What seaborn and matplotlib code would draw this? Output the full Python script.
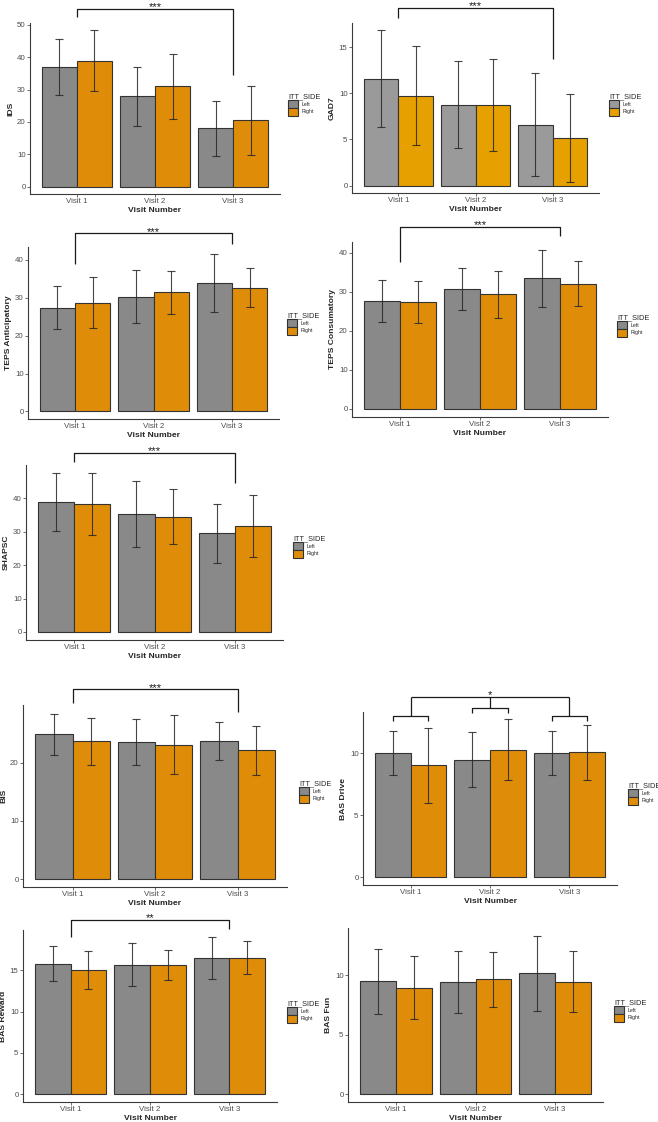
import numpy as np
import pandas as pd
import matplotlib
matplotlib.use('Agg')
import matplotlib.pyplot as plt
import seaborn as sns
from matplotlib.patches import Patch

W, H = 658, 1122

visits = ['Visit 1', 'Visit 2', 'Visit 3']
sides = ['Left', 'Right']

# mean and SD per visit for each side
ids_left = [37.0, 27.95, 18.05]
ids_right = [38.9, 30.95, 20.55]
ids_left_sd = [8.6, 9.05, 8.45]
ids_right_sd = [9.3, 10.05, 10.65]

gad7_left = [11.58, 8.77, 6.59]
gad7_right = [9.75, 8.69, 5.16]
gad7_left_sd = [5.22, 4.73, 5.58]
gad7_right_sd = [5.35, 4.97, 4.8]

tepsa_left = [27.4, 30.3, 33.9]
tepsa_right = [28.7, 31.4, 32.7]
tepsa_left_sd = [5.6, 6.9, 7.6]
tepsa_right_sd = [6.7, 5.75, 5.2]

tepsc_left = [27.6, 30.7, 33.4]
tepsc_right = [27.3, 29.3, 32.05]
tepsc_left_sd = [5.4, 5.4, 7.25]
tepsc_right_sd = [5.4, 6.05, 5.8]

shapsc_left = [38.8, 35.3, 29.5]
shapsc_right = [38.3, 34.5, 31.6]
shapsc_left_sd = [8.75, 9.9, 8.75]
shapsc_right_sd = [9.3, 8.15, 9.2]

bis_left = [24.86, 23.54, 23.66]
bis_right = [23.66, 23.1, 22.1]
bis_left_sd = [3.5, 3.87, 3.25]
bis_right_sd = [4.05, 5.05, 4.15]

basd_left = [10.0, 9.46, 10.0]
basd_right = [9.03, 10.27, 10.05]
basd_left_sd = [1.8, 2.23, 1.8]
basd_right_sd = [3.02, 2.45, 2.21]

basr_left = [15.8, 15.64, 16.45]
basr_right = [15.04, 15.64, 16.5]
basr_left_sd = [2.13, 2.59, 2.55]
basr_right_sd = [2.33, 1.83, 2.0]

basf_left = [9.47, 9.41, 10.17]
basf_right = [8.96, 9.66, 9.44]
basf_left_sd = [2.71, 2.6, 3.15]
basf_right_sd = [2.62, 2.3, 2.57]

pal_main = ['#898989', '#df8d09']
pal_gad = ['#9a9a9a', '#e6a000']

sns.set_style('ticks')
plt.rcParams['font.family'] = ['Liberation Sans', 'DejaVu Sans']

fig = plt.figure(figsize=(W / 100, H / 100), dpi=100)

# panel: label, data, palette, box in pixels (L, T, R, B), ylim, yticks, legend pos, bracket
panels = [
    ('IDS', ids_left, ids_right, ids_left_sd, ids_right_sd, pal_main,
     (30, 23, 280, 194), (-2.2, 50.5), [0, 10, 20, 30, 40, 50], (288, 97),
     (54.9, 52.4, 34.6, '***')),
    ('GAD7', gad7_left, gad7_right, gad7_left_sd, gad7_right_sd, pal_gad,
     (352, 23, 599, 193), (-0.8, 17.6), [0, 5, 10, 15], (609, 97),
     (19.2, 18.1, 13.65, '***')),
    ('TEPS Anticipatory', tepsa_left, tepsa_right, tepsa_left_sd, tepsa_right_sd, pal_main,
     (28, 247, 279, 419), (-2.0, 43.4), [0, 10, 20, 30, 40], (287, 316),
     (47.0, 38.8, 44.3, '***')),
    ('TEPS Consumatory', tepsc_left, tepsc_right, tepsc_left_sd, tepsc_right_sd, pal_main,
     (352, 242, 608, 417), (-2.05, 42.7), [0, 10, 20, 30, 40], (617, 318),
     (46.5, 37.5, 44.2, '***')),
    ('SHAPSC', shapsc_left, shapsc_right, shapsc_left_sd, shapsc_right_sd, pal_main,
     (26, 465, 283, 640), (-2.4, 49.9), [0, 10, 20, 30, 40], (293, 539),
     (53.5, 50.8, 44.6, '***')),
    ('BIS', bis_left, bis_right, bis_left_sd, bis_right_sd, pal_main,
     (23, 705, 287, 887), (-1.37, 29.9), [0, 10, 20], (299, 784),
     (32.6, 30.2, 28.7, '***')),
    ('BAS Drive', basd_left, basd_right, basd_left_sd, basd_right_sd, pal_main,
     (363, 712, 617, 885), (-0.62, 13.3), [0, 5, 10], (628, 786),
     None),
    ('BAS Reward', basr_left, basr_right, basr_left_sd, basr_right_sd, pal_main,
     (23, 930, 277, 1102), (-0.92, 19.86), [0, 5, 10, 15], (287, 1004),
     (21.07, 19.06, 19.94, '**')),
    ('BAS Fun', basf_left, basf_right, basf_left_sd, basf_right_sd, pal_main,
     (348, 928, 603, 1102), (-0.65, 13.96), [0, 5, 10], (614, 1003),
     None),
]

line_kw = dict(color='#1a1a1a', lw=0.9, clip_on=False, solid_capstyle='butt')
star_kw = dict(xytext=(0, 1.2), textcoords='offset points', ha='center', va='center',
               fontsize=8, color='#1a1a1a', annotation_clip=False)

for (name, left, right, left_sd, right_sd, pal, box, ylim, yticks, legpos, bracket) in panels:
    L, T, R, B = box
    ax = fig.add_axes([L / W, 1 - B / H, (R - L) / W, (B - T) / H])
    df = pd.DataFrame({
        'Visit': visits * 2,
        'ITT_SIDE': ['Left'] * 3 + ['Right'] * 3,
        'score': left + right,
    })
    sns.barplot(data=df, x='Visit', y='score', hue='ITT_SIDE', order=visits,
                hue_order=sides, palette=pal, saturation=1, width=0.9, errorbar=None,
                edgecolor='#333333', linewidth=0.8, legend=False, ax=ax)

    # error bars (mean +/- SD) at the bar centres
    for cont, sd in zip(ax.containers, [left_sd, right_sd]):
        bars = sorted(cont, key=lambda b: b.get_x())
        xs = [b.get_x() + b.get_width() / 2 for b in bars]
        ys = [b.get_height() for b in bars]
        ax.errorbar(xs, ys, yerr=sd, fmt='none', ecolor='#262626', elinewidth=0.8,
                    capsize=3, capthick=0.8, alpha=0.85)

    ax.set_xlim(-0.6, 2.6)
    ax.set_ylim(*ylim)
    ax.set_yticks(yticks)
    ax.set_xlabel('Visit Number', fontsize=6.1, fontweight='bold', labelpad=1)
    ax.set_ylabel(name, fontsize=6.1, fontweight='bold', labelpad=2)
    ax.tick_params(axis='both', labelsize=5.7, labelcolor='#4d4d4d', color='#555555',
                   length=2, width=0.6, pad=1.2)
    for s in ['top', 'right']:
        ax.spines[s].set_visible(False)
    for s in ['left', 'bottom']:
        ax.spines[s].set_color('#3a3a3a')
        ax.spines[s].set_linewidth(0.8)

    # significance bracket
    if bracket is not None:
        ytop, yl, yr, lab = bracket
        ax.plot([0, 0, 2, 2], [yl, ytop, ytop, yr], **line_kw)
        ax.annotate(lab, (1, ytop), **star_kw)
    elif name == 'BAS Drive':
        d = 0.225
        subs = [(0, 12.95, 12.57), (1, 13.65, 13.24), (2, 12.97, 12.6)]
        ymain = 14.53
        for xc, yt, yb in subs:
            ax.plot([xc - d, xc - d, xc + d, xc + d], [yb, yt, yt, yb], **line_kw)
            ax.plot([xc, xc], [yt, ymain], **line_kw)
        ax.plot([0, 2], [ymain, ymain], **line_kw)
        ax.annotate('*', (1, ymain), **star_kw)

    # legend
    lx, ly = legpos
    handles = [Patch(facecolor=c, edgecolor='#333333', linewidth=0.8) for c in pal]
    ax.legend(handles, sides, title='ITT_SIDE', loc='upper left',
              bbox_to_anchor=(lx / W, 1 - (ly - 4) / H), bbox_transform=fig.transFigure,
              frameon=False, fontsize=3.8, title_fontsize=5.3, alignment='left',
              handlelength=1.9, handleheight=1.9, labelspacing=0, handletextpad=0.6,
              borderpad=0, borderaxespad=0)

fig.savefig('out.png', dpi=100, facecolor='white')
